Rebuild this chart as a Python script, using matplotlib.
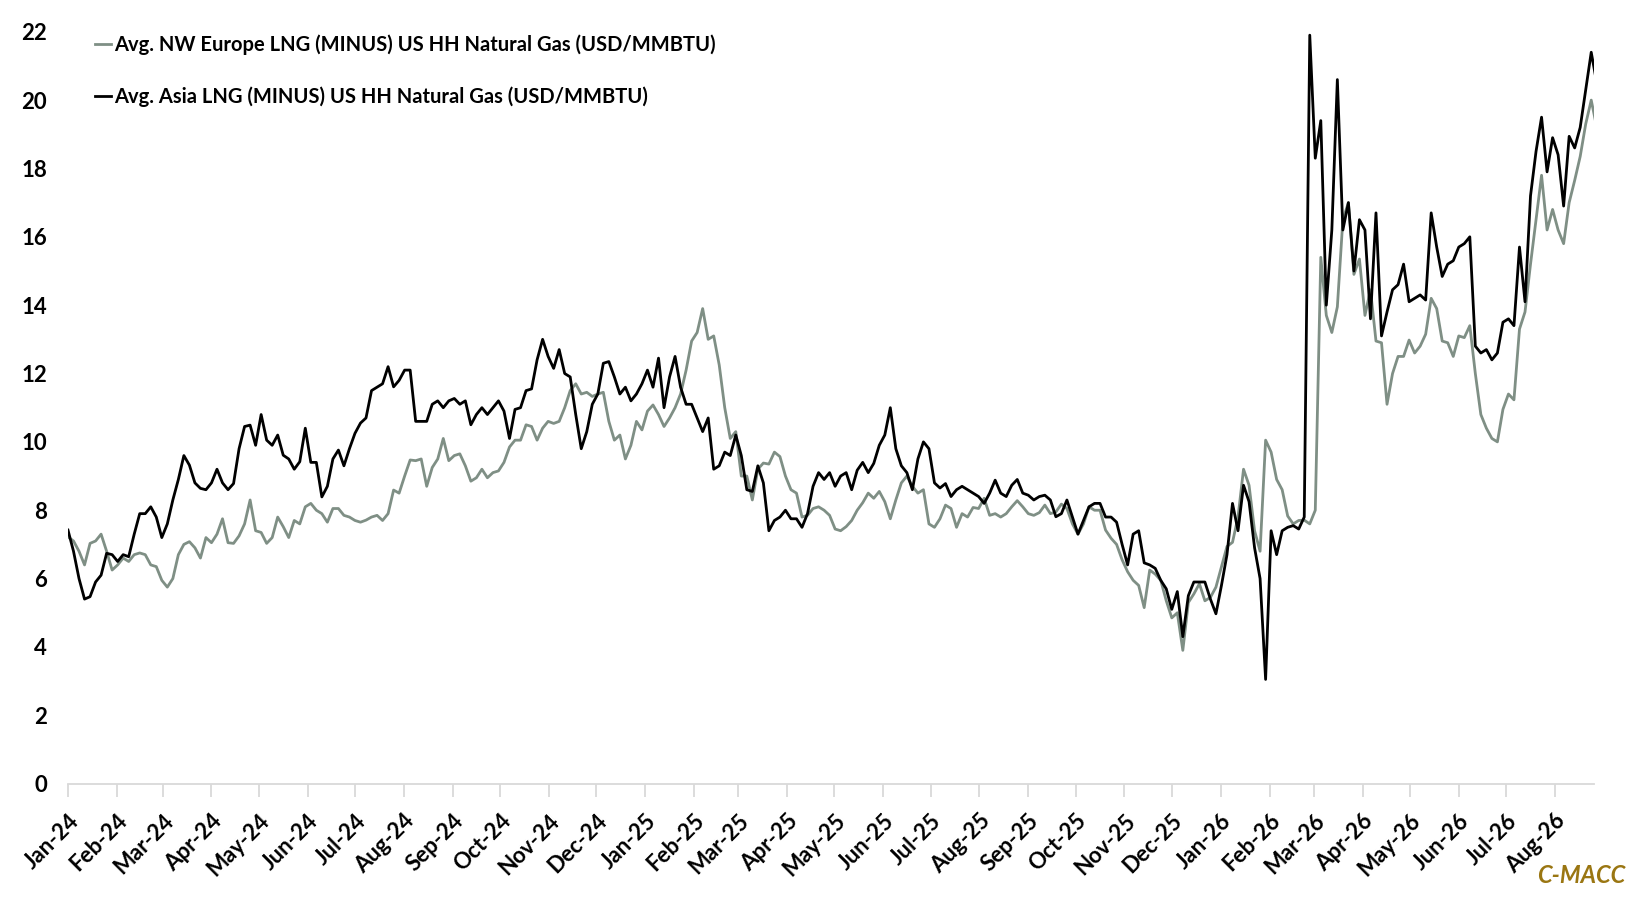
import os

import matplotlib
matplotlib.use("Agg")
import numpy as np
import pandas as pd
import matplotlib.pyplot as plt
from matplotlib import font_manager as fm

START = '2024-01-01'
STEP = '84h'
END = '2026-08-26'

europe_label = 'Avg. NW Europe LNG (MINUS) US HH Natural Gas (USD/MMBTU)'
asia_label = 'Avg. Asia LNG (MINUS) US HH Natural Gas (USD/MMBTU)'

europe = [
    7.22, 7.1, 6.8, 6.4, 7.03, 7.1, 7.3, 6.8, 6.25, 6.4,
    6.6, 6.5, 6.7, 6.75, 6.7, 6.4, 6.35, 5.95, 5.75, 6.0,
    6.7, 7.0, 7.08, 6.9, 6.6, 7.2, 7.05, 7.3, 7.75, 7.05,
    7.03, 7.25, 7.6, 8.3, 7.4, 7.35, 7.03, 7.2, 7.8, 7.52,
    7.2, 7.7, 7.6, 8.1, 8.2, 8.0, 7.9, 7.65, 8.05, 8.05,
    7.85, 7.8, 7.7, 7.65, 7.71, 7.8, 7.85, 7.7, 7.9, 8.59,
    8.5, 9.0, 9.47, 9.45, 9.5, 8.7, 9.25, 9.5, 10.1, 9.45,
    9.6, 9.65, 9.3, 8.85, 8.95, 9.2, 8.95, 9.1, 9.15, 9.4,
    9.85, 10.05, 10.05, 10.5, 10.45, 10.05, 10.4, 10.6, 10.54, 10.6,
    11.0, 11.5, 11.7, 11.4, 11.45, 11.33, 11.4, 11.45, 10.6, 10.05,
    10.2, 9.5, 9.9, 10.6, 10.35, 10.9, 11.08, 10.8, 10.45, 10.7,
    11.0, 11.4, 12.1, 12.95, 13.2, 13.9, 13.0, 13.1, 12.25, 11.0,
    10.1, 10.3, 9.0, 9.0, 8.3, 9.2, 9.38, 9.35, 9.7, 9.57,
    9.0, 8.6, 8.5, 7.8, 7.85, 8.05, 8.1, 8.0, 7.85, 7.45,
    7.4, 7.52, 7.7, 8.0, 8.22, 8.5, 8.35, 8.55, 8.25, 7.75,
    8.3, 8.8, 9.0, 8.7, 8.5, 8.6, 7.6, 7.5, 7.75, 8.15,
    8.05, 7.5, 7.9, 7.8, 8.08, 8.05, 8.35, 7.85, 7.9, 7.8,
    7.9, 8.1, 8.28, 8.1, 7.9, 7.85, 7.93, 8.15, 7.9, 7.95,
    8.18, 8.05, 7.6, 7.3, 7.6, 8.1, 8.0, 8.0, 7.42, 7.18,
    7.0, 6.55, 6.2, 5.95, 5.8, 5.15, 6.25, 6.13, 5.95, 5.35,
    4.85, 5.0, 3.9, 5.3, 5.55, 5.85, 5.35, 5.45, 5.75, 6.35,
    6.94, 7.06, 7.8, 9.2, 8.73, 7.4, 6.8, 10.05, 9.7, 8.9,
    8.6, 7.83, 7.6, 7.7, 7.71, 7.6, 8.0, 15.4, 13.7, 13.2,
    13.95, 16.5, 17.0, 14.9, 15.35, 13.7, 14.45, 12.95, 12.9, 11.1,
    12.0, 12.5, 12.5, 12.98, 12.6, 12.8, 13.15, 14.2, 13.9, 12.95,
    12.9, 12.5, 13.1, 13.05, 13.4, 12.0, 10.8, 10.4, 10.1, 10.0,
    10.95, 11.4, 11.23, 13.3, 13.8, 15.2, 16.5, 17.8, 16.2, 16.8,
    16.2, 15.8, 17.0, 17.65, 18.35, 19.3, 20.0, 19.2,
]

asia = [
    7.42, 6.8, 6.0, 5.4, 5.47, 5.9, 6.1, 6.74, 6.7, 6.5,
    6.7, 6.64, 7.3, 7.9, 7.9, 8.1, 7.8, 7.2, 7.6, 8.3,
    8.9, 9.6, 9.32, 8.8, 8.64, 8.6, 8.8, 9.2, 8.8, 8.6,
    8.78, 9.8, 10.45, 10.49, 9.9, 10.8, 10.05, 9.9, 10.2, 9.61,
    9.5, 9.2, 9.42, 10.4, 9.4, 9.4, 8.39, 8.7, 9.5, 9.76,
    9.3, 9.8, 10.25, 10.55, 10.7, 11.5, 11.6, 11.7, 12.2, 11.61,
    11.8, 12.1, 12.1, 10.6, 10.6, 10.6, 11.1, 11.2, 11.0, 11.2,
    11.27, 11.1, 11.2, 10.5, 10.8, 11.0, 10.8, 11.0, 11.2, 10.9,
    10.1, 10.95, 11.0, 11.5, 11.55, 12.4, 13.0, 12.5, 12.15, 12.7,
    12.0, 11.9, 10.8, 9.8, 10.3, 11.1, 11.4, 12.3, 12.35, 11.9,
    11.4, 11.6, 11.2, 11.4, 11.7, 12.1, 11.6, 12.45, 11.0, 11.9,
    12.5, 11.6, 11.1, 11.1, 10.7, 10.3, 10.7, 9.2, 9.3, 9.7,
    9.6, 10.2, 9.6, 8.6, 8.55, 9.3, 8.8, 7.4, 7.7, 7.8,
    8.0, 7.75, 7.75, 7.5, 7.9, 8.7, 9.1, 8.9, 9.1, 8.7,
    9.0, 9.1, 8.6, 9.17, 9.4, 9.1, 9.37, 9.9, 10.2, 11.0,
    9.8, 9.3, 9.1, 8.6, 9.5, 10.0, 9.8, 8.8, 8.65, 8.78,
    8.4, 8.6, 8.7, 8.6, 8.5, 8.4, 8.2, 8.5, 8.88, 8.5,
    8.4, 8.73, 8.9, 8.5, 8.44, 8.3, 8.4, 8.44, 8.3, 7.81,
    7.9, 8.3, 7.8, 7.3, 7.7, 8.1, 8.2, 8.2, 7.8, 7.8,
    7.65, 7.0, 6.4, 7.3, 7.4, 6.46, 6.4, 6.3, 5.95, 5.7,
    5.1, 5.62, 4.3, 5.5, 5.9, 5.9, 5.9, 5.4, 4.97, 5.8,
    6.7, 8.2, 7.4, 8.73, 8.25, 6.9, 6.0, 3.05, 7.4, 6.7,
    7.4, 7.5, 7.55, 7.45, 7.8, 21.9, 18.3, 19.4, 14.0, 16.2,
    20.6, 16.2, 17.0, 15.0, 16.5, 16.2, 13.6, 16.7, 13.1, 13.8,
    14.45, 14.6, 15.2, 14.1, 14.2, 14.3, 14.15, 16.7, 15.7, 14.84,
    15.2, 15.3, 15.7, 15.8, 16.0, 12.8, 12.6, 12.7, 12.4, 12.6,
    13.5, 13.6, 13.4, 15.7, 14.1, 17.2, 18.5, 19.5, 17.9, 18.9,
    18.4, 16.9, 18.94, 18.6, 19.2, 20.3, 21.4, 20.5,
]

y_ticks = list(range(0, 23, 2))

GREY = '#7f8f85'
GOLD = '#9a7612'
AXIS_GREY = '#d9d9d9'

# Calibri is not available; Lato bold is the closest narrow-ish bold face
fp = fm.FontProperties(family=['Lato', 'DejaVu Sans'], weight='bold', size=14.5)
fp_ticks = fm.FontProperties(family=['Lato', 'DejaVu Sans'], weight='bold', size=16)
fp_logo = fm.FontProperties(family=['Lato', 'DejaVu Sans'], weight='bold',
                            style='italic', size=17)

dates = pd.date_range(START, periods=len(asia), freq=STEP)
month_starts = pd.date_range(START, END, freq='MS')

fig = plt.figure(figsize=(16.42, 9.07), dpi=100)
ax = fig.add_axes([0.0414, 0.136, 0.9296, 0.829])

ax.plot(dates, europe, color=GREY, lw=2.0, label=europe_label)
ax.plot(dates, asia, color='black', lw=2.0, label=asia_label)

ax.set_ylim(0, 22)
ax.set_xlim(dates[0], pd.Timestamp(END))

for side in ('top', 'right', 'left'):
    ax.spines[side].set_visible(False)
ax.spines['bottom'].set_color(AXIS_GREY)
ax.spines['bottom'].set_linewidth(1.3)

ax.set_yticks(y_ticks)
ax.set_yticklabels([str(v) for v in y_ticks], fontproperties=fp_ticks)
ax.set_xticks(month_starts)
ax.set_xticklabels([d.strftime('%b-%y') for d in month_starts],
                   fontproperties=fp_ticks, rotation=45, ha='right',
                   rotation_mode='anchor')
ax.tick_params(axis='x', length=9, color=AXIS_GREY, width=1.3, pad=10)
ax.tick_params(axis='y', length=0, pad=15)

fig.legend(loc='upper left', bbox_to_anchor=(0.058, 0.962), frameon=False,
           prop=fp, handlelength=0.8, handletextpad=0.15,
           labelspacing=1.55, borderpad=0, borderaxespad=0)

fig.text(0.99, 0.035, 'C-MACC', color=GOLD, fontproperties=fp_logo,
         ha='right', va='center')

fig.savefig('out.png', dpi=100)
